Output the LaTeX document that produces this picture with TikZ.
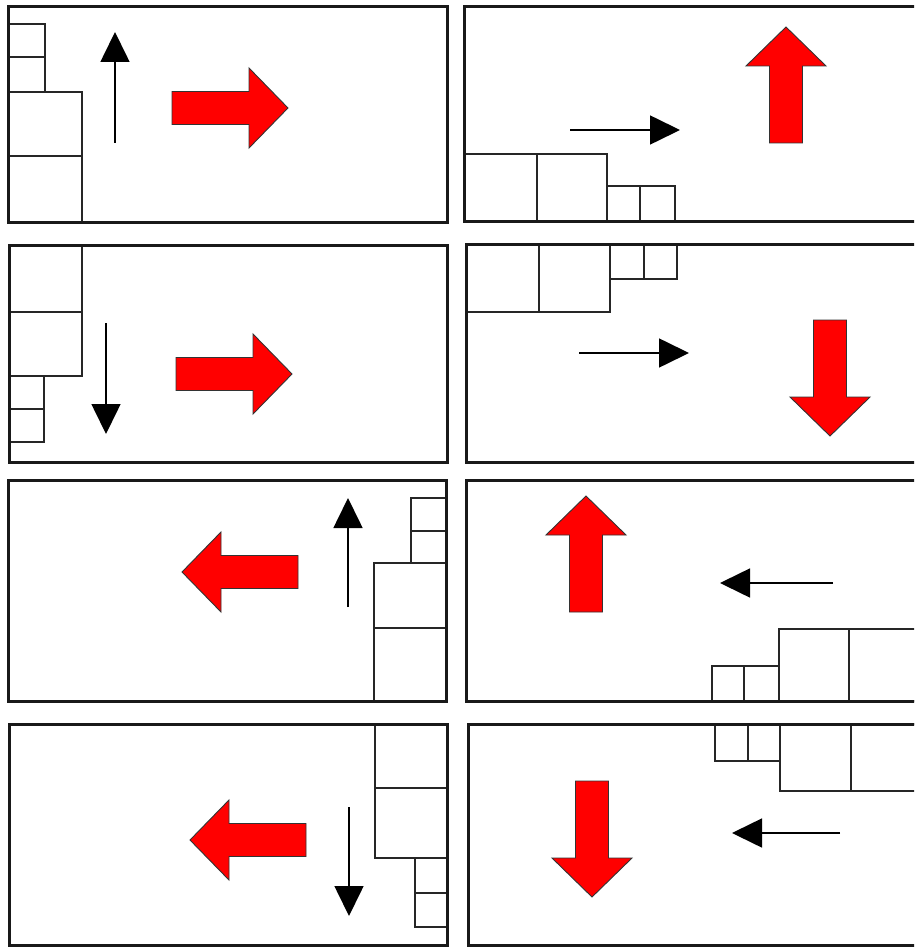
\documentclass[tikz,border=0pt]{standalone}
\usetikzlibrary{arrows.meta}
\tikzset{
  frame/.style={draw=black!90, line width=3pt},
  cell/.style={draw=black!85, line width=1.6pt},
  blackarrow/.style={draw=black, line width=1.6pt, -{Triangle[length=30pt,width=29pt]}},
  bigarrow/.pic={
    \fill[red, draw=black!80, line width=0.9pt]
      (0,-16.5) -- (77,-16.5) -- (77,-40) -- (116,0) -- (77,40) -- (77,16.5) -- (0,16.5) -- cycle;
  }
}
\begin{document}
\begin{tikzpicture}[x=1pt,y=-1pt]
\clip (0,0) rectangle (914,949);
\fill[white] (0,0) rectangle (914,949);

% ---------- Panel 1 ----------
\draw[cell] (8,24) rectangle (45,57);
\draw[cell] (8,57) rectangle (45,92);
\draw[cell] (8,92) rectangle (82,156);
\draw[cell] (8,156) rectangle (82,223);
\coordinate (a1s) at (115,143); \coordinate (a1e) at (115,32);
\draw[blackarrow] (a1s) -- (a1e);
\pic at (172,108) {bigarrow};
\draw[frame] (8,7) rectangle (447,223);

% ---------- Panel 2 ----------
\draw[cell] (464,154) rectangle (537,222);
\draw[cell] (537,154) rectangle (607,222);
\draw[cell] (607,186) rectangle (640,222);
\draw[cell] (640,186) rectangle (675,222);
\coordinate (a2s) at (570,130); \coordinate (a2e) at (680,130);
\draw[blackarrow] (a2s) -- (a2e);
\pic[rotate=90] at (786,143) {bigarrow};
\draw[frame] (464,7) rectangle (930,222);

% ---------- Panel 3 ----------
\draw[cell] (9,246) rectangle (82,312);
\draw[cell] (9,312) rectangle (82,376);
\draw[cell] (9,376) rectangle (44,409);
\draw[cell] (9,409) rectangle (44,442);
\coordinate (a3s) at (106,323); \coordinate (a3e) at (106,434);
\draw[blackarrow] (a3s) -- (a3e);
\pic at (176,374) {bigarrow};
\draw[frame] (9,246) rectangle (447,462);

% ---------- Panel 4 ----------
\draw[cell] (466,245) rectangle (539,312);
\draw[cell] (539,245) rectangle (610,312);
\draw[cell] (610,245) rectangle (644,279);
\draw[cell] (644,245) rectangle (677,279);
\coordinate (a4s) at (579,353); \coordinate (a4e) at (689,353);
\draw[blackarrow] (a4s) -- (a4e);
\pic[rotate=-90] at (830,320) {bigarrow};
\draw[frame] (466,245) rectangle (930,462);

% ---------- Panel 5 ----------
\draw[cell] (411,498) rectangle (446,531);
\draw[cell] (411,531) rectangle (446,563);
\draw[cell] (374,563) rectangle (446,628);
\draw[cell] (374,628) rectangle (446,701);
\coordinate (a5s) at (348,607); \coordinate (a5e) at (348,498);
\draw[blackarrow] (a5s) -- (a5e);
\pic[rotate=180] at (298,572) {bigarrow};
\draw[frame] (8,480) rectangle (446,701);

% ---------- Panel 6 ----------
\draw[cell] (712,666) rectangle (744,701);
\draw[cell] (744,666) rectangle (779,701);
\draw[cell] (779,629) rectangle (849,701);
\draw[cell] (849,629) rectangle (919,701);
\coordinate (a6s) at (833,583); \coordinate (a6e) at (720,583);
\draw[blackarrow] (a6s) -- (a6e);
\pic[rotate=90] at (586,612) {bigarrow};
\draw[frame] (466,480) rectangle (930,701);

% ---------- Panel 7 ----------
\draw[cell] (375,724) rectangle (447,788);
\draw[cell] (375,788) rectangle (447,858);
\draw[cell] (415,858) rectangle (447,893);
\draw[cell] (415,893) rectangle (447,927);
\coordinate (a7s) at (349,807); \coordinate (a7e) at (349,916);
\draw[blackarrow] (a7s) -- (a7e);
\pic[rotate=180] at (306,840) {bigarrow};
\draw[frame] (9,724) rectangle (447,945);

% ---------- Panel 8 ----------
\draw[cell] (715,724) rectangle (748,761);
\draw[cell] (748,724) rectangle (780,761);
\draw[cell] (780,724) rectangle (851,791);
\draw[cell] (851,724) rectangle (921,791);
\coordinate (a8s) at (840,833); \coordinate (a8e) at (732,833);
\draw[blackarrow] (a8s) -- (a8e);
\pic[rotate=-90] at (592,781) {bigarrow};
\draw[frame] (468,724) rectangle (930,945);
\end{tikzpicture}
\end{document}
